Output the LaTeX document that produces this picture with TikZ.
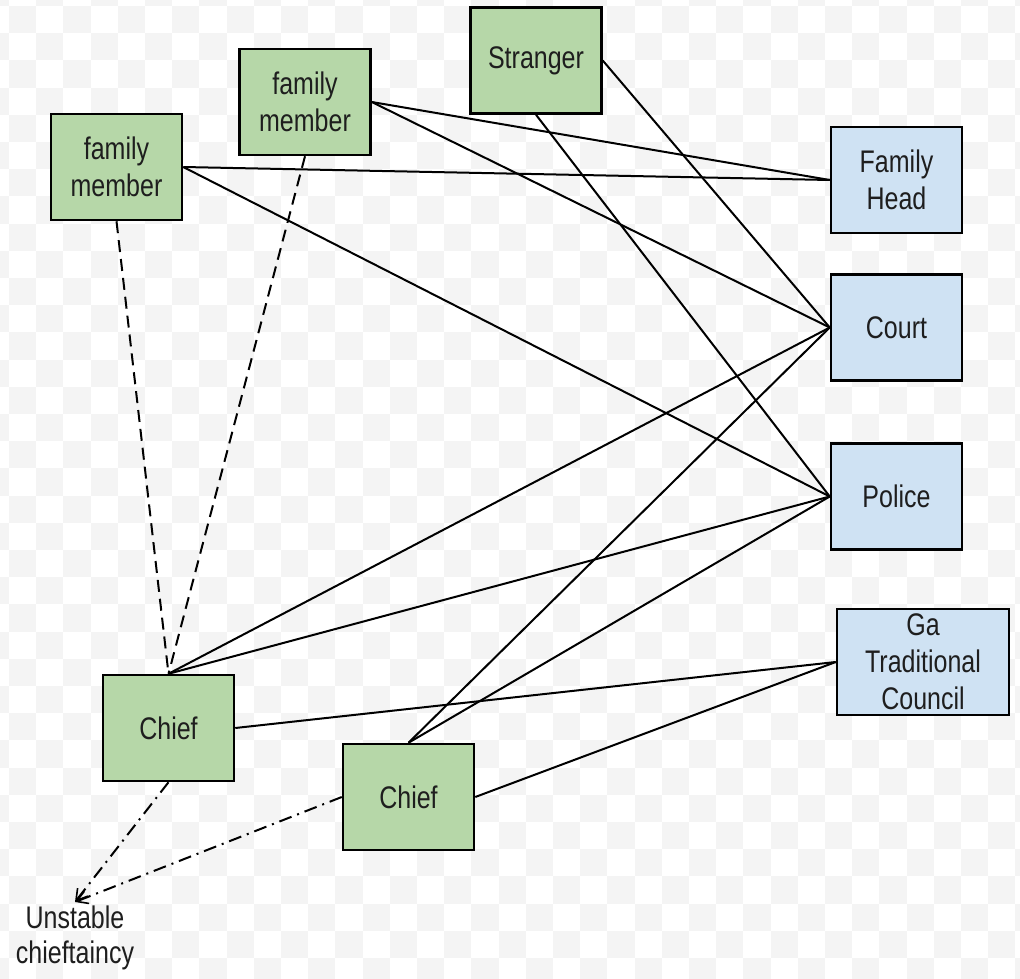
\documentclass[tikz,border=0pt]{standalone}
\usepackage{fontspec}
\setmainfont{Liberation Sans}
\usetikzlibrary{arrows.meta}
\definecolor{boxgreen}{HTML}{B6D7A8}
\definecolor{boxblue}{HTML}{CFE2F3}
\definecolor{checker}{HTML}{F4F4F4}
\definecolor{ink}{HTML}{1E1E1E}
% labels are set a little taller than wide
\newcommand{\tall}[1]{\scalebox{1}[1.25]{#1}}
\tikzset{
  party/.style={draw=black, line width=2.5pt, fill=boxgreen, minimum width=131pt,
    minimum height=106pt, align=center, text=ink, inner sep=2pt,
    font=\fontsize{25}{37}\selectfont},
  authority/.style={party, fill=boxblue},
  tie/.style={draw=black, line width=2pt},
  kin/.style={tie, dash pattern=on 12pt off 7pt},
  dispute/.style={tie, dash pattern=on 13pt off 6pt on 2pt off 6pt,
    -{Straight Barb[length=11pt,width=13pt,line width=1.6pt]}},
  caption/.style={align=center, text=ink, inner sep=4pt,
    font=\fontsize{25}{35}\selectfont}
}
\begin{document}
\begin{tikzpicture}[x=1pt,y=-1pt]
  \useasboundingbox (0,0) rectangle (1020,979);
  % light checkered backdrop
  \fill[white] (0,0) rectangle (1020,979);
  \begin{scope}
    \clip (0,0) rectangle (1020,979);
    \foreach \i in {-1,...,37}{
      \foreach \j in {-1,...,36}{
        \pgfmathparse{int(mod(\i+\j+10,2))}
        \ifnum\pgfmathresult=0
          \fill[checker] (9+27.2*\i,6+27.2*\j) rectangle ++(27.2,27.2);
        \fi
      }
    }
  \end{scope}

  % parties
  \node[party] (fmA) at (116.5,167) {\tall{family}\\\tall{member}};
  \node[party] (fmB) at (305,102) {\tall{family}\\\tall{member}};
  \node[party] (stranger) at (536,60.5) {\tall{Stranger}};
  \node[party] (chiefA) at (168.5,728) {\tall{Chief}};
  \node[party] (chiefB) at (408.5,797) {\tall{Chief}};

  % authorities
  \node[authority] (head) at (896.5,180) {\tall{Family}\\\tall{Head}};
  \node[authority] (court) at (896.5,327.5) {\tall{Court}};
  \node[authority] (police) at (896.5,496.5) {\tall{Police}};
  \node[authority, minimum width=172pt] (council) at (923,662)
    {\tall{Ga}\\\tall{Traditional}\\\tall{Council}};

  \node[caption, anchor=north] (unstable) at (75,902)
    {\tall{Unstable}\\\tall{chieftaincy}};

  % solid ties to authorities
  \draw[tie] (fmA.east) -- (head.west);
  \draw[tie] (fmA.east) -- (police.west);
  \draw[tie] (fmB.east) -- (head.west);
  \draw[tie] (fmB.east) -- (court.west);
  \draw[tie] (stranger.east) -- (court.west);
  \draw[tie] (stranger.south) -- (police.west);
  \draw[tie] (chiefA.north) -- (court.west);
  \draw[tie] (chiefA.north) -- (police.west);
  \draw[tie] (chiefA.east) -- (council.west);
  \draw[tie] (chiefB.north) -- (court.west);
  \draw[tie] (chiefB.north) -- (police.west);
  \draw[tie] (chiefB.east) -- (council.west);

  % family links to the chief
  \draw[kin] (fmA.south) -- (chiefA.north);
  \draw[kin] (fmB.south) -- (chiefA.north);

  % rival chiefs
  \draw[dispute] (chiefA.south) -- (unstable.north);
  \draw[dispute] (chiefB.west) -- (unstable.north);

  % redraw boxes above the lines
  \node[party] at (fmA) {\tall{family}\\\tall{member}};
  \node[party] at (fmB) {\tall{family}\\\tall{member}};
  \node[party] at (stranger) {\tall{Stranger}};
  \node[party] at (chiefA) {\tall{Chief}};
  \node[party] at (chiefB) {\tall{Chief}};
  \node[authority] at (head) {\tall{Family}\\\tall{Head}};
  \node[authority] at (court) {\tall{Court}};
  \node[authority] at (police) {\tall{Police}};
  \node[authority, minimum width=172pt] at (council)
    {\tall{Ga}\\\tall{Traditional}\\\tall{Council}};
\end{tikzpicture}
\end{document}
